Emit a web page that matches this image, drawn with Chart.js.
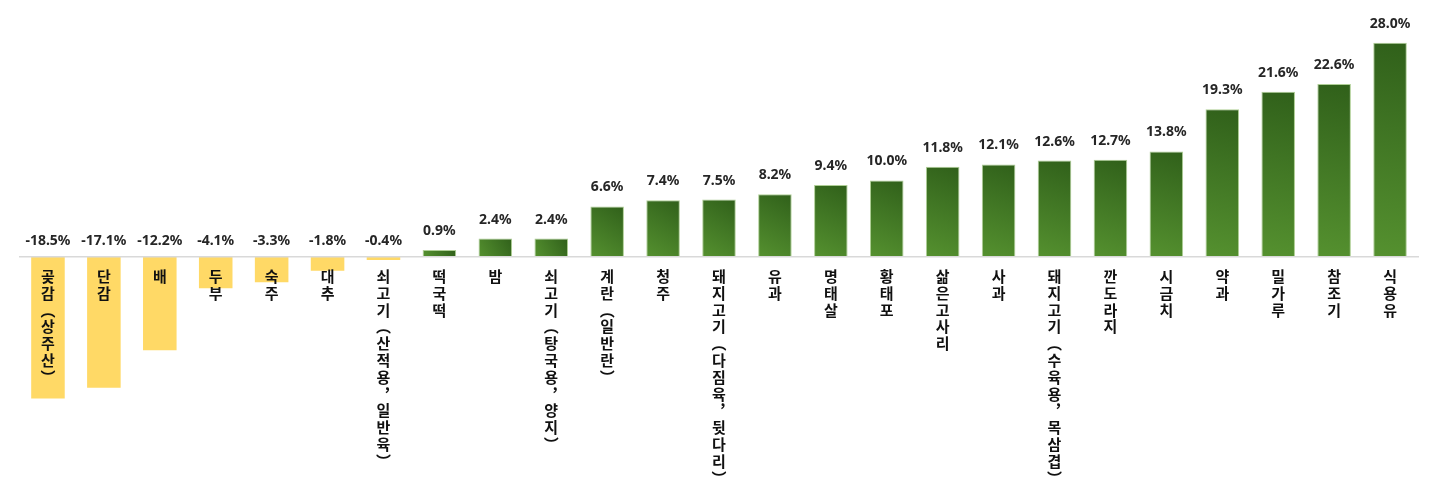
<!DOCTYPE html>
<html lang="ko">
<head>
<meta charset="utf-8">
<script src="https://cdn.jsdelivr.net/npm/chart.js@4"></script>
<style>
  html, body { margin: 0; padding: 0; background: #fff; }
  #wrap { width: 1439px; height: 494px; }
</style>
</head>
<body>
<div id="wrap"><canvas id="price-chart"></canvas></div>
<script>
// items (left to right)
const items = [
  "곶감 (상주산)", "단감", "배", "두부", "숙주", "대추", "쇠고기 (산적용,일반육)",
  "떡국떡", "밤", "쇠고기 (탕국용,양지)", "계란(일반란)", "청주", "돼지고기 (다짐육,뒷다리)",
  "유과", "명태살", "황태포", "삶은 고사리", "사과", "돼지고기 (수육용,목 삼겹)",
  "깐 도라지", "시금치", "약과", "밀가루", "참조기", "식용유"
];
// change rate (%)
const changeRates = [
  -18.5, -17.1, -12.2, -4.1, -3.3, -1.8, -0.4,
  0.9, 2.4, 2.4, 6.6, 7.4, 7.5,
  8.2, 9.4, 10.0, 11.8, 12.1, 12.6,
  12.7, 13.8, 19.3, 21.6, 22.6, 28.0
];

// stack the characters top to bottom, using vertical forms for punctuation
const verticalForms = { "(": "\uFE35", ")": "\uFE36", ",": "\uFE10" };
function toVertical(label) {
  return label.split("").filter(ch => ch !== " ").map(ch => verticalForms[ch] || ch);
}

function barFill(context) {
  const chart = context.chart;
  const value = context.raw;
  if (value < 0) return "#FFD966";
  if (!chart.chartArea) return "#437A25";
  const x = chart.scales.x.getPixelForValue(context.dataIndex);
  const top = chart.scales.y.getPixelForValue(value);
  const bottom = chart.scales.y.getPixelForValue(0);
  const g = chart.ctx.createLinearGradient(x - 17, bottom, x + 17, top);
  g.addColorStop(0, "#55912F");
  g.addColorStop(0.6, "#3F7423");
  g.addColorStop(1, "#30601A");
  return g;
}

// value labels: above the bar for positive values, above the zero line for negative ones
const valueLabels = {
  id: "valueLabels",
  afterDatasetsDraw(chart) {
    const ctx = chart.ctx;
    const meta = chart.getDatasetMeta(0);
    const zeroY = chart.scales.y.getPixelForValue(0);
    ctx.save();
    ctx.font = "bold 14px 'Noto Sans', sans-serif";
    ctx.fillStyle = "#262626";
    ctx.textAlign = "center";
    ctx.textBaseline = "bottom";
    meta.data.forEach((bar, i) => {
      const v = changeRates[i];
      const y = v >= 0 ? bar.y - 12 : zeroY - 9;
      ctx.fillText(v.toFixed(1) + "%", bar.x, y);
    });
    ctx.restore();
  }
};

const ctx = document.getElementById("price-chart").getContext("2d");
const chart = new Chart(ctx, {
  type: "bar",
  data: {
    labels: items.map(toVertical),
    datasets: [{
      data: changeRates,
      backgroundColor: barFill,
      borderColor: c => (c.raw < 0 ? "#FFD966" : "rgba(160,198,130,0.85)"),
      borderWidth: c => (c.raw < 0 ? 0 : 1),
      barPercentage: 0.6,
      categoryPercentage: 1.0
    }]
  },
  options: {
    responsive: true,
    maintainAspectRatio: false,
    animation: false,
    layout: { padding: { left: 20, right: 21, top: 0, bottom: 0 } },
    plugins: {
      legend: { display: false },
      tooltip: { enabled: false }
    },
    scales: {
      x: {
        position: { y: 0 },
        grid: { display: false, drawTicks: false },
        border: { display: true, color: "#D9D9D9", width: 1.5, z: 1 },
        ticks: {
          z: 1,
          autoSkip: false,
          maxRotation: 0,
          padding: 11,
          color: "#111",
          font: { family: "'Noto Sans CJK KR', sans-serif", size: 15, weight: "bold", lineHeight: 1.12 }
        }
      },
      y: {
        display: false,
        min: -31,
        max: 33.6
      }
    }
  },
  plugins: [valueLabels]
});
</script>
</body>
</html>
